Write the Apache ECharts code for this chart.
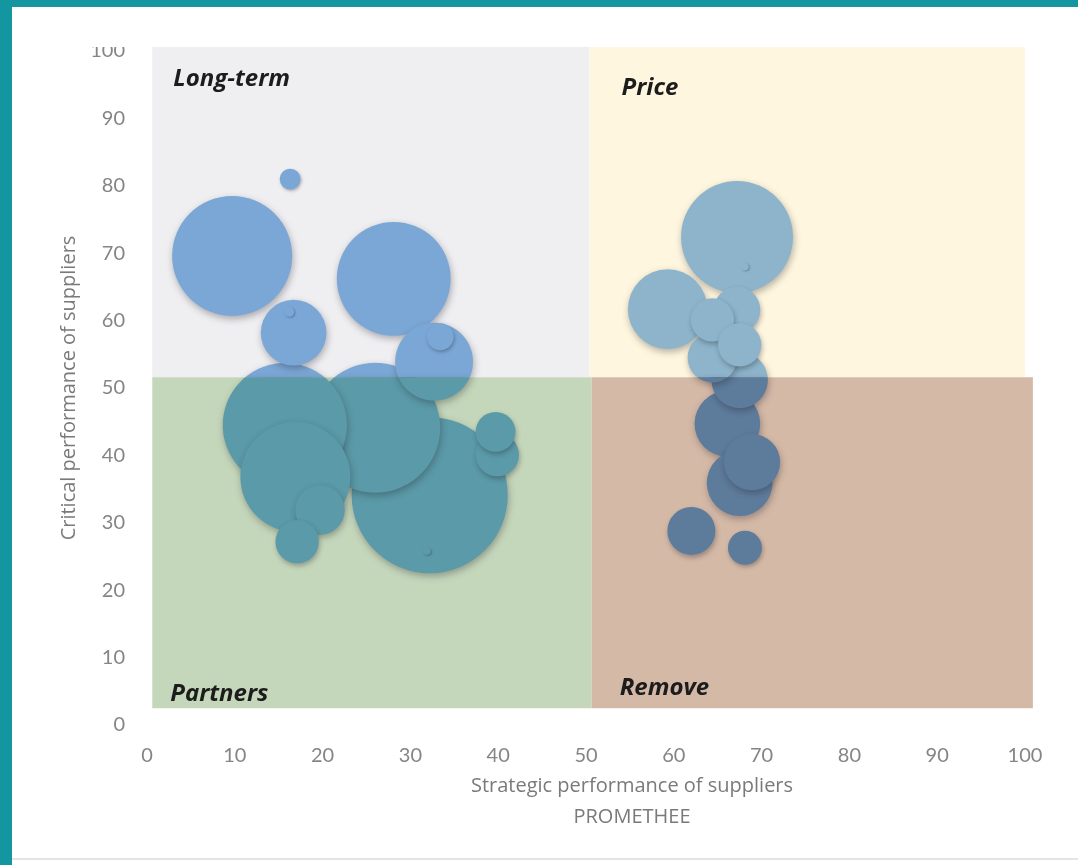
<!DOCTYPE html>
<html>
<head>
<meta charset="utf-8">
<title>Supplier performance matrix</title>
<script src="https://cdn.jsdelivr.net/npm/echarts@6/dist/echarts.min.js"></script>
<style>
  html, body { margin: 0; padding: 0; background: #ffffff; width: 1078px; height: 865px; overflow: hidden; }
  #frame-top { position: absolute; left: 0; top: 0; width: 1078px; height: 7px; background: #1496a1; }
  #frame-left { position: absolute; left: 0; top: 0; width: 12px; height: 865px; background: #1496a1; }
  #frame-bottom { position: absolute; left: 12px; top: 858px; width: 1066px; height: 2px; background: #e4e4e4; }
  #chart { position: absolute; left: 12px; top: 7px; width: 1066px; height: 851px; }
</style>
</head>
<body>
<div id="frame-top"></div>
<div id="frame-left"></div>
<div id="frame-bottom"></div>
<div id="chart"></div>
<script>
// Suppliers with strategic score below 50 (x = strategic, y = critical, size = weight)
const lowStrategicX    = [9.7, 32.2, 26.0, 15.7, 28.1, 16.9, 32.7, 16.7, 19.7, 39.9, 17.1, 39.7, 33.4, 16.3, 16.2, 31.9];
const lowStrategicY    = [69.6, 34.1, 44.1, 44.5, 66.2, 36.8, 53.9, 58.2, 31.9, 40.1, 27.2, 43.5, 57.6, 81.0, 61.3, 25.8];
const lowStrategicSize = [100, 169, 117, 107, 90, 84, 42, 30, 17, 13, 13, 11, 5, 3, 0.7, 0.4];

// Suppliers with strategic score above 50
const highStrategicX    = [67.2, 59.3, 66.1, 67.5, 67.5, 68.9, 64.4, 62.0, 67.2, 64.4, 67.5, 68.1, 68.1];
const highStrategicY    = [72.4, 61.7, 44.7, 35.9, 51.2, 39.0, 54.5, 28.8, 61.6, 60.1, 56.4, 26.3, 68.0];
const highStrategicSize = [87, 44, 30, 30, 22, 22, 17, 16, 15, 13, 13, 8, 0.4];

// Quadrants of the matrix and the thresholds that separate them
const quadrantNames = ['Long-term', 'Price', 'Partners', 'Remove'];
const quadrantXFrom = [0.6, 50.4, 0.6, 50.65];
const quadrantXTo   = [50.4, 100, 50.65, 100.9];
const quadrantYFrom = [51.6, 51.6, 2.5, 2.5];
const quadrantYTo   = [100.6, 100.6, 51.6, 51.6];
const strategicSplit = 50.5;
const criticalSplit = 51.6;

// Axis ticks
const axisMin = 0;
const axisMax = 100;
const axisStep = 10;

const quadrantFills  = ['#efeef1', '#fef6de', '#c5d7bb', '#d5b9a7'];
const bubbleFills    = ['#7ba7d6', '#8db4cb', '#5b9aa8', '#5d7b9b'];
// label offsets in pixels from the quadrant's outer corner
const labelOffsets = [[21, 32], [32, 41], [18, -14], [28, -20]];

function bubbleShadow(r) {
  return {
    shadowBlur: Math.min(7, 1 + r / 5),
    shadowColor: 'rgba(35, 35, 45, 0.34)',
    shadowOffsetX: 1,
    shadowOffsetY: Math.min(3, 0.5 + r / 10)
  };
}

// all suppliers, largest bubbles drawn first
const suppliers = []
  .concat(lowStrategicX.map((x, i) => [x, lowStrategicY[i], lowStrategicSize[i]]))
  .concat(highStrategicX.map((x, i) => [x, highStrategicY[i], highStrategicSize[i]]))
  .sort((a, b) => b[2] - a[2]);

// Sutherland-Hodgman clipping of a polygon against an axis-aligned box
function clipPolygon(poly, x0, y0, x1, y1) {
  const edges = [
    [p => p[0] >= x0, (a, b) => [x0, a[1] + (x0 - a[0]) / (b[0] - a[0]) * (b[1] - a[1])]],
    [p => p[0] <= x1, (a, b) => [x1, a[1] + (x1 - a[0]) / (b[0] - a[0]) * (b[1] - a[1])]],
    [p => p[1] >= y0, (a, b) => [a[0] + (y0 - a[1]) / (b[1] - a[1]) * (b[0] - a[0]), y0]],
    [p => p[1] <= y1, (a, b) => [a[0] + (y1 - a[1]) / (b[1] - a[1]) * (b[0] - a[0]), y1]]
  ];
  let out = poly;
  for (const [inside, cut] of edges) {
    const input = out;
    out = [];
    for (let i = 0; i < input.length; i++) {
      const cur = input[i];
      const prev = input[(i + input.length - 1) % input.length];
      const ci = inside(cur), pi = inside(prev);
      if (ci) {
        if (!pi) out.push(cut(prev, cur));
        out.push(cur);
      } else if (pi) {
        out.push(cut(prev, cur));
      }
    }
    if (!out.length) break;
  }
  return out;
}

const chart = echarts.init(document.getElementById('chart'), null, { renderer: 'canvas' });

chart.setOption({
  backgroundColor: '#ffffff',
  animation: false,
  grid: { left: 135, right: 53, top: 44, bottom: 133, containLabel: false },
  xAxis: {
    type: 'value',
    min: axisMin, max: axisMax, interval: axisStep,
    axisLine: { show: false }, axisTick: { show: false }, splitLine: { show: false },
    axisLabel: { color: '#858585', fontSize: 20, fontFamily: 'Lato', margin: 21 },
    name: 'Strategic performance of suppliers\nPROMETHEE',
    nameLocation: 'middle',
    nameGap: 44,
    nameTextStyle: { color: '#7a7a7a', fontSize: 20, fontFamily: 'Open Sans', lineHeight: 31, padding: [0, 0, 0, 92] }
  },
  yAxis: {
    type: 'value',
    min: axisMin, max: axisMax, interval: axisStep,
    axisLine: { show: false }, axisTick: { show: false }, splitLine: { show: false },
    axisLabel: { color: '#858585', fontSize: 20, fontFamily: 'Lato', margin: 22 },
    name: 'Critical performance of suppliers',
    nameLocation: 'middle',
    nameGap: 66,
    nameTextStyle: { color: '#7a7a7a', fontSize: 20, fontFamily: 'Open Sans' }
  },
  graphic: [{
    type: 'rect', left: 60, top: 0, z: 100,
    shape: { width: 90, height: 40 },
    style: { fill: '#ffffff' }
  }],
  series: [
    {
      name: 'Quadrants',
      type: 'custom',
      z: 1,
      silent: true,
      encode: { x: [0, 1], y: [2, 3] },
      data: quadrantNames.map((n, i) => [quadrantXFrom[i], quadrantXTo[i], quadrantYFrom[i], quadrantYTo[i]]),
      renderItem: function (params, api) {
        const i = params.dataIndex;
        const topLeft = api.coord([api.value(0), api.value(3)]);
        const bottomRight = api.coord([api.value(1), api.value(2)]);
        const off = labelOffsets[i];
        const ly = i < 2 ? topLeft[1] + off[1] : bottomRight[1] + off[1];
        return {
          type: 'group',
          children: [
            {
              type: 'rect',
              shape: { x: topLeft[0], y: topLeft[1], width: bottomRight[0] - topLeft[0], height: bottomRight[1] - topLeft[1] },
              style: { fill: quadrantFills[i] }
            },
            {
              type: 'text',
              x: topLeft[0] + off[0],
              y: ly,
              z2: 50,
              style: {
                text: quadrantNames[i],
                fill: '#1c1c1c',
                font: 'italic bold 24px "Open Sans"',
                align: 'left',
                verticalAlign: 'middle'
              }
            }
          ]
        };
      }
    },
    {
      name: 'Suppliers',
      type: 'custom',
      z: 2,
      silent: true,
      encode: { x: 0, y: 1 },
      data: suppliers,
      renderItem: function (params, api) {
        const c = api.coord([api.value(0), api.value(1)]);
        const r = 6 * Math.sqrt(api.value(2));
        const sx = api.coord([strategicSplit, 0])[0];
        const sy = api.coord([0, criticalSplit])[1];
        const B = 1e5;
        // regions in pixel space: top-left, top-right, bottom-left, bottom-right
        const regions = [[-B, -B, sx, sy], [sx, -B, B, sy], [-B, sy, sx, B], [sx, sy, B, B]];
        const children = [];
        for (let q = 0; q < 4; q++) {
          const [x0, y0, x1, y1] = regions[q];
          const fullyInside = c[0] - r >= x0 && c[0] + r <= x1 && c[1] - r >= y0 && c[1] + r <= y1;
          if (fullyInside) {
            children.push({
              type: 'circle',
              shape: { cx: c[0], cy: c[1], r: r },
              style: Object.assign({ fill: bubbleFills[q] }, bubbleShadow(r))
            });
            continue;
          }
          const circle = [];
          const n = 144;
          for (let k = 0; k < n; k++) {
            const a = (k / n) * Math.PI * 2;
            circle.push([c[0] + r * Math.cos(a), c[1] + r * Math.sin(a)]);
          }
          const piece = clipPolygon(circle, x0, y0, x1, y1);
          if (piece.length > 2) {
            children.push({
              type: 'polygon',
              shape: { points: piece },
              style: Object.assign({ fill: bubbleFills[q] }, bubbleShadow(r))
            });
          }
        }
        return { type: 'group', children: children };
      }
    }
  ]
});
</script>
</body>
</html>
